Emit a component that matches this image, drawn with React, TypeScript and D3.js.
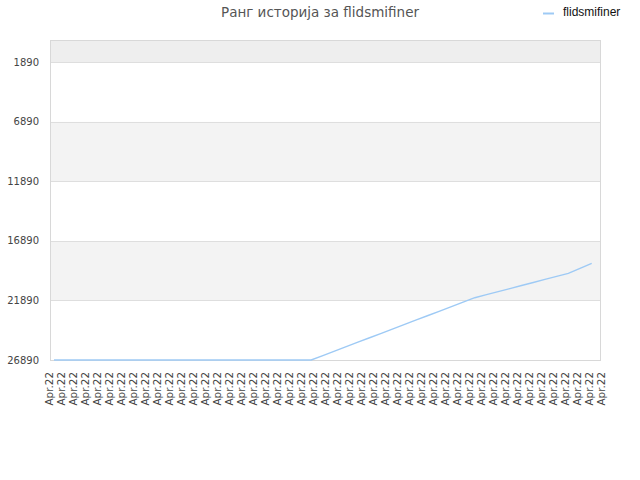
import React from "react";
import * as d3 from "d3";

const title = "Ранг историја за flidsmifiner";
const seriesName = "flidsmifiner";
const xLabels: string[] = Array.from({ length: 47 }, () => "Apr.22");
const yTicks = [1890, 6890, 11890, 16890, 21890, 26890];
const rankValues = [
  26890, 26890, 26890, 26890, 26890, 26890, 26890, 26890, 26890, 26890,
  26890, 26890, 26890, 26890, 26890, 26890, 26890, 26890, 26890, 26890,
  26890, 26890, 26890, 26516, 26143, 25769, 25395, 25022, 24648, 24274,
  23900, 23527, 23153, 22779, 22406, 22032, 21658, 21402, 21146, 20890,
  20634, 20378, 20122, 19865, 19609, 19189, 18769,
];

const W = 640;
const H = 480;
const plot = { left: 50.5, right: 600.5, top: 40.5, bottom: 360.5 };

export default function App() {
  const y = d3.scaleLinear().domain([26890, 50]).range([plot.bottom - 0.5, plot.top]);
  const idx = rankValues.map((_, i) => i);
  const xPts = d3.scalePoint<number>().domain(idx).range([54, 591.7]);
  const xLab = d3.scalePoint<number>().domain(xLabels.map((_, i) => i)).range([52.5, 604.5]);

  const line = d3
    .line<number>()
    .x((_, i) => xPts(i) as number)
    .y((d) => y(d));

  const bandEdges = [50, ...yTicks];
  const bands = bandEdges.slice(0, -1).map((v, i) => ({
    y0: y(v),
    y1: y(bandEdges[i + 1]),
    fill: i === 0 ? "#eeeeee" : i % 2 === 0 ? "#f3f3f3" : "#ffffff",
  }));

  return (
    <svg
      width={W}
      height={H}
      style={{ position: "absolute", left: 0, top: 0, background: "#fff" }}
      fontFamily="DejaVu Sans"
    >
      <text x={320} y={17} textAnchor="middle" fontSize={13.5} fill="#555">
        {title}
      </text>
      <line x1={543} x2={554} y1={13.5} y2={13.5} stroke="#9ecaf5" strokeWidth={2} />
      <text x={563} y={16} fontSize={12} fontFamily="Liberation Sans" fill="#111">
        {seriesName}
      </text>

      {bands.map((b, i) => (
        <rect key={i} x={plot.left} y={b.y0} width={plot.right - plot.left} height={b.y1 - b.y0} fill={b.fill} />
      ))}
      {yTicks.map((t) => (
        <line key={t} x1={plot.left} x2={plot.right} y1={Math.round(y(t)) + 0.5} y2={Math.round(y(t)) + 0.5} stroke="#dedede" />
      ))}
      <rect
        x={plot.left}
        y={plot.top}
        width={plot.right - plot.left}
        height={plot.bottom - plot.top}
        fill="none"
        stroke="#d8d8d8"
      />
      {yTicks.map((t) => (
        <text key={t} x={39} y={y(t)} dy="0.35em" textAnchor="end" fontSize={10} fill="#444">
          {t}
        </text>
      ))}
      {xLabels.map((l, i) => (
        <text
          key={i}
          transform={`translate(${xLab(i)},372) rotate(-90)`}
          textAnchor="end"
          fontSize={10.4}
          fill="#444"
        >
          {l}
        </text>
      ))}
      <path d={line(rankValues) || ""} fill="none" stroke="#9ecaf5" strokeWidth={1.4} />
    </svg>
  );
}
